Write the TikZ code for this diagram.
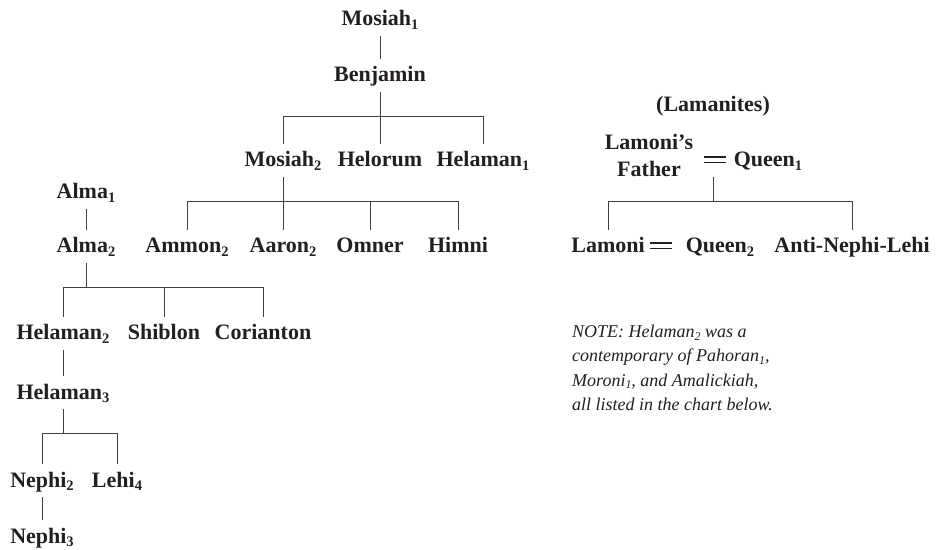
\documentclass[tikz,border=0pt]{standalone}
\usepackage{fontspec}
\usepackage{graphicx}
\setmainfont{Liberation Serif}
\newcommand\ix[1]{\raisebox{-0.14em}{\scalebox{0.66}{#1}}}
\newcommand\namefont{\fontsize{22bp}{27bp}\selectfont\bfseries}
\newcommand\notefont{\fontsize{18bp}{24bp}\selectfont\itshape}
\newcommand\dbl{\rlap{\rule[0.16em]{1.0em}{0.085em}}\rule[0.40em]{1.0em}{0.085em}}
\definecolor{txt}{HTML}{231F20}
\definecolor{lnc}{HTML}{404040}
\tikzset{
  nm/.style={font=\namefont, text=txt, anchor=base, inner sep=0pt, text height=23bp, text depth=10bp},
  ln/.style={draw=lnc, line width=0.8bp},
  notebox/.style={font=\notefont, text=txt, anchor=base west, inner sep=0pt}
}
\begin{document}
\begin{tikzpicture}[x=1bp,y=-1bp]
\useasboundingbox (0,0) rectangle (939,550);
% Mosiah line
\node[nm] (m1) at (380,26) {Mosiah\ix{1}};
\node[nm] (ben) at (380,82) {Benjamin};
\node[nm] (m2) at (283,167) {Mosiah\ix{2}};
\node[nm] (hel) at (380,167) {Helorum};
\node[nm] (h1) at (483,167) {Helaman\ix{1}};
\node[nm] (am) at (187,253) {Ammon\ix{2}};
\node[nm] (aa) at (283,253) {Aaron\ix{2}};
\node[nm] (om) at (370,253) {Omner};
\node[nm] (hi) at (458,253) {Himni};
% Alma line
\node[nm] (a1) at (86,199) {Alma\ix{1}};
\node[nm] (a2) at (86,253) {Alma\ix{2}};
\node[nm] (h2) at (63,340) {Helaman\ix{2}};
\node[nm] (sh) at (164,340) {Shiblon};
\node[nm] (co) at (263,340) {Corianton};
\node[nm] (h3) at (63,399) {Helaman\ix{3}};
\node[nm] (n2) at (42,487) {Nephi\ix{2}};
\node[nm] (le) at (117,487) {Lehi\ix{4}};
\node[nm] (n3) at (42,543) {Nephi\ix{3}};
% Lamanites
\node[nm] (lam) at (713,112) {(Lamanites)};
\node[font=\namefont, text=txt, anchor=base, inner sep=0pt] (lf) at (649,177)
  {\begin{tabular}[b]{@{}c@{}}Lamoni’s\\Father\end{tabular}};
\node[nm] (eq1) at (715,167) {\dbl};
\node[nm] (q1) at (768,167) {Queen\ix{1}};
\node[nm] (lm) at (608,253) {Lamoni};
\node[nm] (eq2) at (661,253) {\dbl};
\node[nm] (q2) at (720,253) {Queen\ix{2}};
\node[nm] (anl) at (852,253) {Anti-Nephi-Lehi};
% Note
\node[notebox] (note) at (572,338)
  {\begin{tabular}[t]{@{}l@{}}NOTE: Helaman\ix{2} was a\\contemporary of Pahoran\ix{1},\\Moroni\ix{1}, and Amalickiah,\\all listed in the chart below.\end{tabular}};
% connectors
\draw[ln] (m1.south) -- (ben.north);
\path (ben.south) ++(0,24) coordinate (jB);
\draw[ln] (ben.south) -- (jB);
\draw[ln] (m2.north) |- (jB) -| (h1.north);
\draw[ln] (hel.north) -- (hel.north |- jB);
\path (m2.south) ++(0,24) coordinate (jM);
\draw[ln] (m2.south) -- (jM);
\draw[ln] (am.north) |- (jM) -| (hi.north);
\draw[ln] (aa.north) -- (aa.north |- jM);
\draw[ln] (om.north) -- (om.north |- jM);
\draw[ln] (a1.south) -- (a2.north);
\path (a2.south) ++(0,24) coordinate (jA);
\draw[ln] (a2.south) -- (jA);
\draw[ln] (h2.north) |- (jA) -| (co.north);
\draw[ln] (sh.north) -- (sh.north |- jA);
\draw[ln] (h2.south) -- (h3.north);
\path (h3.south) ++(0,24) coordinate (jH);
\draw[ln] (h3.south) -- (jH);
\draw[ln] (n2.north) |- (jH) -| (le.north);
\draw[ln] (n2.south) -- (n3.north);
\path (eq1.south) ++(-2,24) coordinate (jL);
\draw[ln] (eq1.south) ++(-2,0) -- (jL);
\draw[ln] (lm.north) |- (jL) -| (anl.north);
\end{tikzpicture}
\end{document}
